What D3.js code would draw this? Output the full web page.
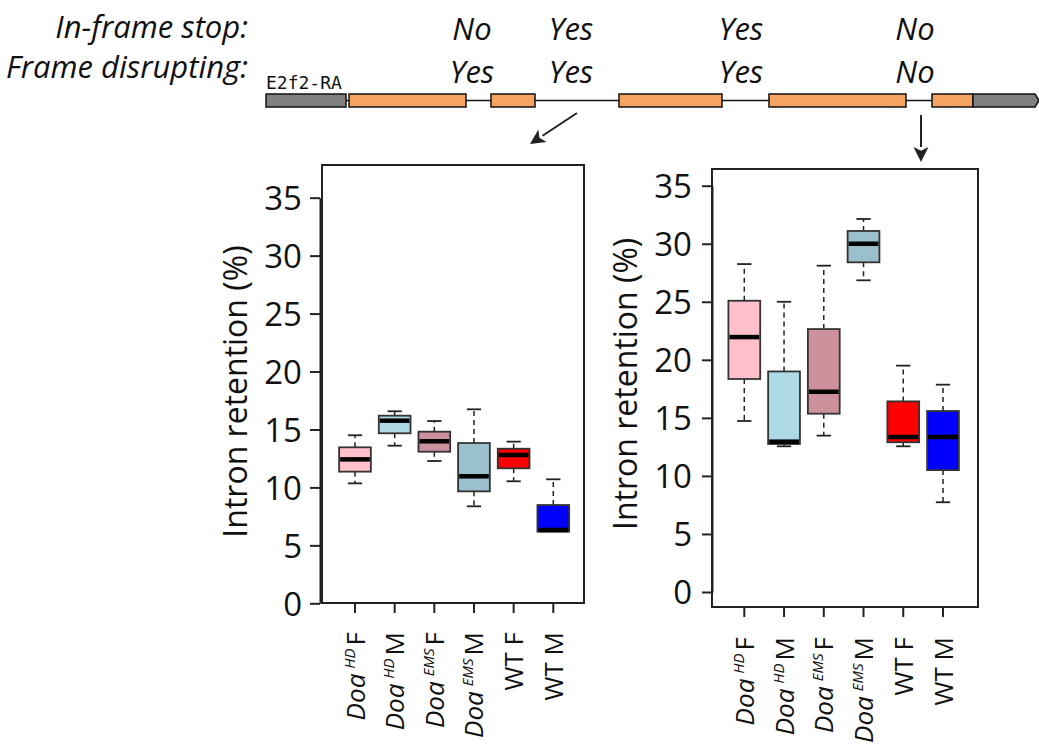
<!DOCTYPE html>
<html>
<head>
<meta charset="utf-8">
<script src="https://cdn.jsdelivr.net/npm/d3@7"></script>
<style>
  html, body { margin: 0; padding: 0; background: #fff; }
  svg { display: block; }
  text { fill: #111; }
</style>
</head>
<body>
<svg id="fig" width="1039" height="744" font-family="'Open Sans', 'Noto Sans', sans-serif"></svg>
<script>
// ---- Data -------------------------------------------------------------
const groups = [
  { main: "Doa", sup: "HD", sex: "F" },
  { main: "Doa", sup: "HD", sex: "M" },
  { main: "Doa", sup: "EMS", sex: "F" },
  { main: "Doa", sup: "EMS", sex: "M" },
  { main: "WT", sup: "", sex: "F" },
  { main: "WT", sup: "", sex: "M" }
];
const boxColors = ["#FFC0CB", "#ADD8E6", "#CD919E", "#9AC0CD", "#FF0000", "#0000FF"];
const yTicks = [0, 5, 10, 15, 20, 25, 30, 35];

// Intron 2 retention (left panel): whisker low, Q1, median, Q3, whisker high
const intron2Low  = [10.35, 13.6, 12.28, 8.37, 10.53, 6.18];
const intron2Q1   = [11.36, 14.67, 13.08, 9.66, 11.65, 6.18];
const intron2Med  = [12.42, 15.76, 13.98, 10.96, 12.8, 6.33];
const intron2Q3   = [13.46, 16.19, 14.81, 13.83, 13.34, 8.48];
const intron2High = [14.5, 16.57, 15.73, 16.74, 13.95, 10.7];

// Intron 4 retention (right panel)
const intron4Low  = [14.73, 12.55, 13.47, 26.85, 12.55, 7.73];
const intron4Q1   = [18.35, 12.75, 15.36, 28.4, 12.9, 10.5];
const intron4Med  = [21.96, 12.95, 17.25, 30.0, 13.35, 13.35];
const intron4Q3   = [25.09, 19.0, 22.65, 31.1, 16.42, 15.59];
const intron4High = [28.25, 25.0, 28.11, 32.13, 19.5, 17.86];

// Gene model of E2f2-RA (positions along the transcript diagram)
const geneName = "E2f2-RA";
const utr5 = [0, 80];
const exons = [[83, 200], [225, 269], [353, 456], [503, 640], [666, 707]];
const utr3 = [707, 769, 773];
const intronMarks = [206, 305, 475, 649];
const inFrameStop = ["No", "Yes", "Yes", "No"];
const frameDisrupting = ["Yes", "Yes", "Yes", "No"];

// ---- Drawing ----------------------------------------------------------
const svg = d3.select("#fig");
const headSize = 31;

// Header row labels
svg.append("text").attr("x", 248).attr("y", 38)
  .attr("text-anchor", "end").attr("font-style", "italic").attr("font-size", headSize)
  .text("In-frame stop:");
svg.append("text").attr("x", 248).attr("y", 78)
  .attr("text-anchor", "end").attr("font-style", "italic").attr("font-size", headSize)
  .text("Frame disrupting:");

// Gene model
const gx = d3.scaleLinear().domain([0, 773]).range([266, 1039]);
const gTop = 94, gBot = 107, gMid = (gTop + gBot) / 2;
const gene = svg.append("g");
gene.append("line")
  .attr("x1", gx(utr5[1])).attr("x2", gx(exons[exons.length - 1][0]))
  .attr("y1", gMid).attr("y2", gMid)
  .attr("stroke", "#111").attr("stroke-width", 1.5);
gene.append("rect")
  .attr("x", gx(utr5[0])).attr("y", gTop)
  .attr("width", gx(utr5[1]) - gx(utr5[0])).attr("height", gBot - gTop)
  .attr("fill", "#808080").attr("stroke", "#111").attr("stroke-width", 1.5);
gene.selectAll("rect.exon").data(exons).join("rect").attr("class", "exon")
  .attr("x", d => gx(d[0])).attr("y", gTop)
  .attr("width", d => gx(d[1]) - gx(d[0])).attr("height", gBot - gTop)
  .attr("fill", "#F4A460").attr("stroke", "#111").attr("stroke-width", 1.5);
gene.append("path")
  .attr("d", `M${gx(utr3[0])},${gTop} L${gx(utr3[1])},${gTop} L${gx(utr3[2])},${gMid} L${gx(utr3[1])},${gBot} L${gx(utr3[0])},${gBot} Z`)
  .attr("fill", "#808080").attr("stroke", "#111").attr("stroke-width", 1.5);
gene.append("text")
  .attr("x", gx(0)).attr("y", 89)
  .style("font-family", "'DejaVu Sans Mono', 'Liberation Mono', monospace")
  .attr("font-size", 18)
  .attr("fill", "#222")
  .text(geneName);

// Intron annotations
intronMarks.forEach((p, i) => {
  svg.append("text").attr("x", gx(p)).attr("y", 39.5)
    .attr("text-anchor", "middle").attr("font-style", "italic").attr("font-size", headSize)
    .text(inFrameStop[i]);
  svg.append("text").attr("x", gx(p)).attr("y", 82.5)
    .attr("text-anchor", "middle").attr("font-style", "italic").attr("font-size", headSize)
    .text(frameDisrupting[i]);
});

// Arrows from introns to their panels
function arrow(x1, y1, x2, y2) {
  const ang = Math.atan2(y2 - y1, x2 - x1);
  const L = 15, W = 7.5;
  const bx = x2 - L * Math.cos(ang), by = y2 - L * Math.sin(ang);
  svg.append("line").attr("x1", x1).attr("y1", y1).attr("x2", bx).attr("y2", by)
    .attr("stroke", "#222").attr("stroke-width", 2);
  const px = -Math.sin(ang) * W, py = Math.cos(ang) * W;
  const ix = x2 - (L * 0.75) * Math.cos(ang), iy = y2 - (L * 0.75) * Math.sin(ang);
  svg.append("path")
    .attr("d", `M${x2},${y2} L${bx + px},${by + py} L${ix},${iy} L${bx - px},${by - py} Z`)
    .attr("fill", "#222");
}
arrow(gx(311), 113, 530, 144);
arrow(gx(655), 115, gx(655), 162);

// Box plot panels
function panel(cfg) {
  const y = d3.scaleLinear().domain([0, 35]).range(cfg.yRange);
  const x = d3.scaleLinear().domain([0, groups.length - 1]).range(cfg.xRange);
  const step = x(1) - x(0);
  const bw = step * 0.8, cap = bw * 0.45;
  const g = svg.append("g");

  // frame
  g.append("rect")
    .attr("x", cfg.frame[0]).attr("y", cfg.frame[1])
    .attr("width", cfg.frame[2] - cfg.frame[0]).attr("height", cfg.frame[3] - cfg.frame[1])
    .attr("fill", "none").attr("stroke", "#222").attr("stroke-width", 2);

  // y axis
  const ya = g.append("g").attr("transform", `translate(${cfg.axisX},0)`)
    .call(d3.axisLeft(y).tickValues(yTicks).tickSize(10).tickPadding(cfg.pad).tickSizeOuter(0));
  ya.attr("font-family", null);
  ya.select(".domain").attr("stroke", "#222").attr("stroke-width", 2);
  ya.selectAll(".tick line").attr("stroke", "#222").attr("stroke-width", 2);
  ya.selectAll(".tick text")
    .attr("font-size", 33).attr("fill", "#111").attr("dy", "0.36em");

  g.append("text")
    .attr("transform", `translate(${cfg.titleX},${(y(0) + y(35)) / 2 + cfg.titleDy}) rotate(-90)`)
    .attr("text-anchor", "middle").attr("font-size", 32)
    .text("Intron retention (%)");

  // x ticks and group labels
  groups.forEach((grp, i) => {
    g.append("line").attr("x1", x(i)).attr("x2", x(i))
      .attr("y1", cfg.frame[3]).attr("y2", cfg.frame[3] + 10)
      .attr("stroke", "#222").attr("stroke-width", 2);
    const t = g.append("text")
      .attr("transform", `translate(${x(i) + 9.5},${cfg.labelY}) rotate(-90)`)
      .attr("text-anchor", "end").attr("font-size", 26);
    if (grp.sup) {
      t.append("tspan").attr("font-style", "italic").text(grp.main);
      t.append("tspan").attr("font-style", "italic").attr("font-size", 15)
        .attr("dx", 5).attr("dy", -10).text(grp.sup);
      t.append("tspan").attr("dx", 3).attr("dy", 10).text(grp.sex);
    } else {
      t.append("tspan").text(grp.main + " " + grp.sex);
    }
  });

  // boxes
  const d = cfg.stats;
  groups.forEach((grp, i) => {
    const cx = x(i);
    [[d.q3[i], d.hi[i]], [d.q1[i], d.lo[i]]].forEach(([a, b]) => {
      if (Math.abs(a - b) > 1e-6) {
        g.append("line").attr("x1", cx).attr("x2", cx).attr("y1", y(a)).attr("y2", y(b))
          .attr("stroke", "#222").attr("stroke-width", 1.5).attr("stroke-dasharray", "5,4");
        g.append("line").attr("x1", cx - cap / 2).attr("x2", cx + cap / 2)
          .attr("y1", y(b)).attr("y2", y(b))
          .attr("stroke", "#222").attr("stroke-width", 1.8);
      }
    });
    g.append("rect")
      .attr("x", cx - bw / 2).attr("width", bw)
      .attr("y", y(d.q3[i])).attr("height", y(d.q1[i]) - y(d.q3[i]))
      .attr("fill", boxColors[i]).attr("stroke", "#333").attr("stroke-width", 1.8);
    g.append("line").attr("x1", cx - bw / 2 + 1).attr("x2", cx + bw / 2 - 1)
      .attr("y1", y(d.med[i])).attr("y2", y(d.med[i]))
      .attr("stroke", "#000").attr("stroke-width", 4.5);
  });
}

panel({
  frame: [322, 165, 584, 603],
  yRange: [603.3, 197.7],
  xRange: [355, 553.3],
  axisX: 320, pad: 8,
  titleX: 247, titleDy: -9,
  labelY: 632,
  stats: { lo: intron2Low, q1: intron2Q1, med: intron2Med, q3: intron2Q3, hi: intron2High }
});
panel({
  frame: [712, 169, 978, 607],
  yRange: [592, 185.7],
  xRange: [744.3, 943],
  axisX: 712, pad: 10,
  titleX: 637, titleDy: -5,
  labelY: 637,
  stats: { lo: intron4Low, q1: intron4Q1, med: intron4Med, q3: intron4Q3, hi: intron4High }
});
</script>
</body>
</html>
